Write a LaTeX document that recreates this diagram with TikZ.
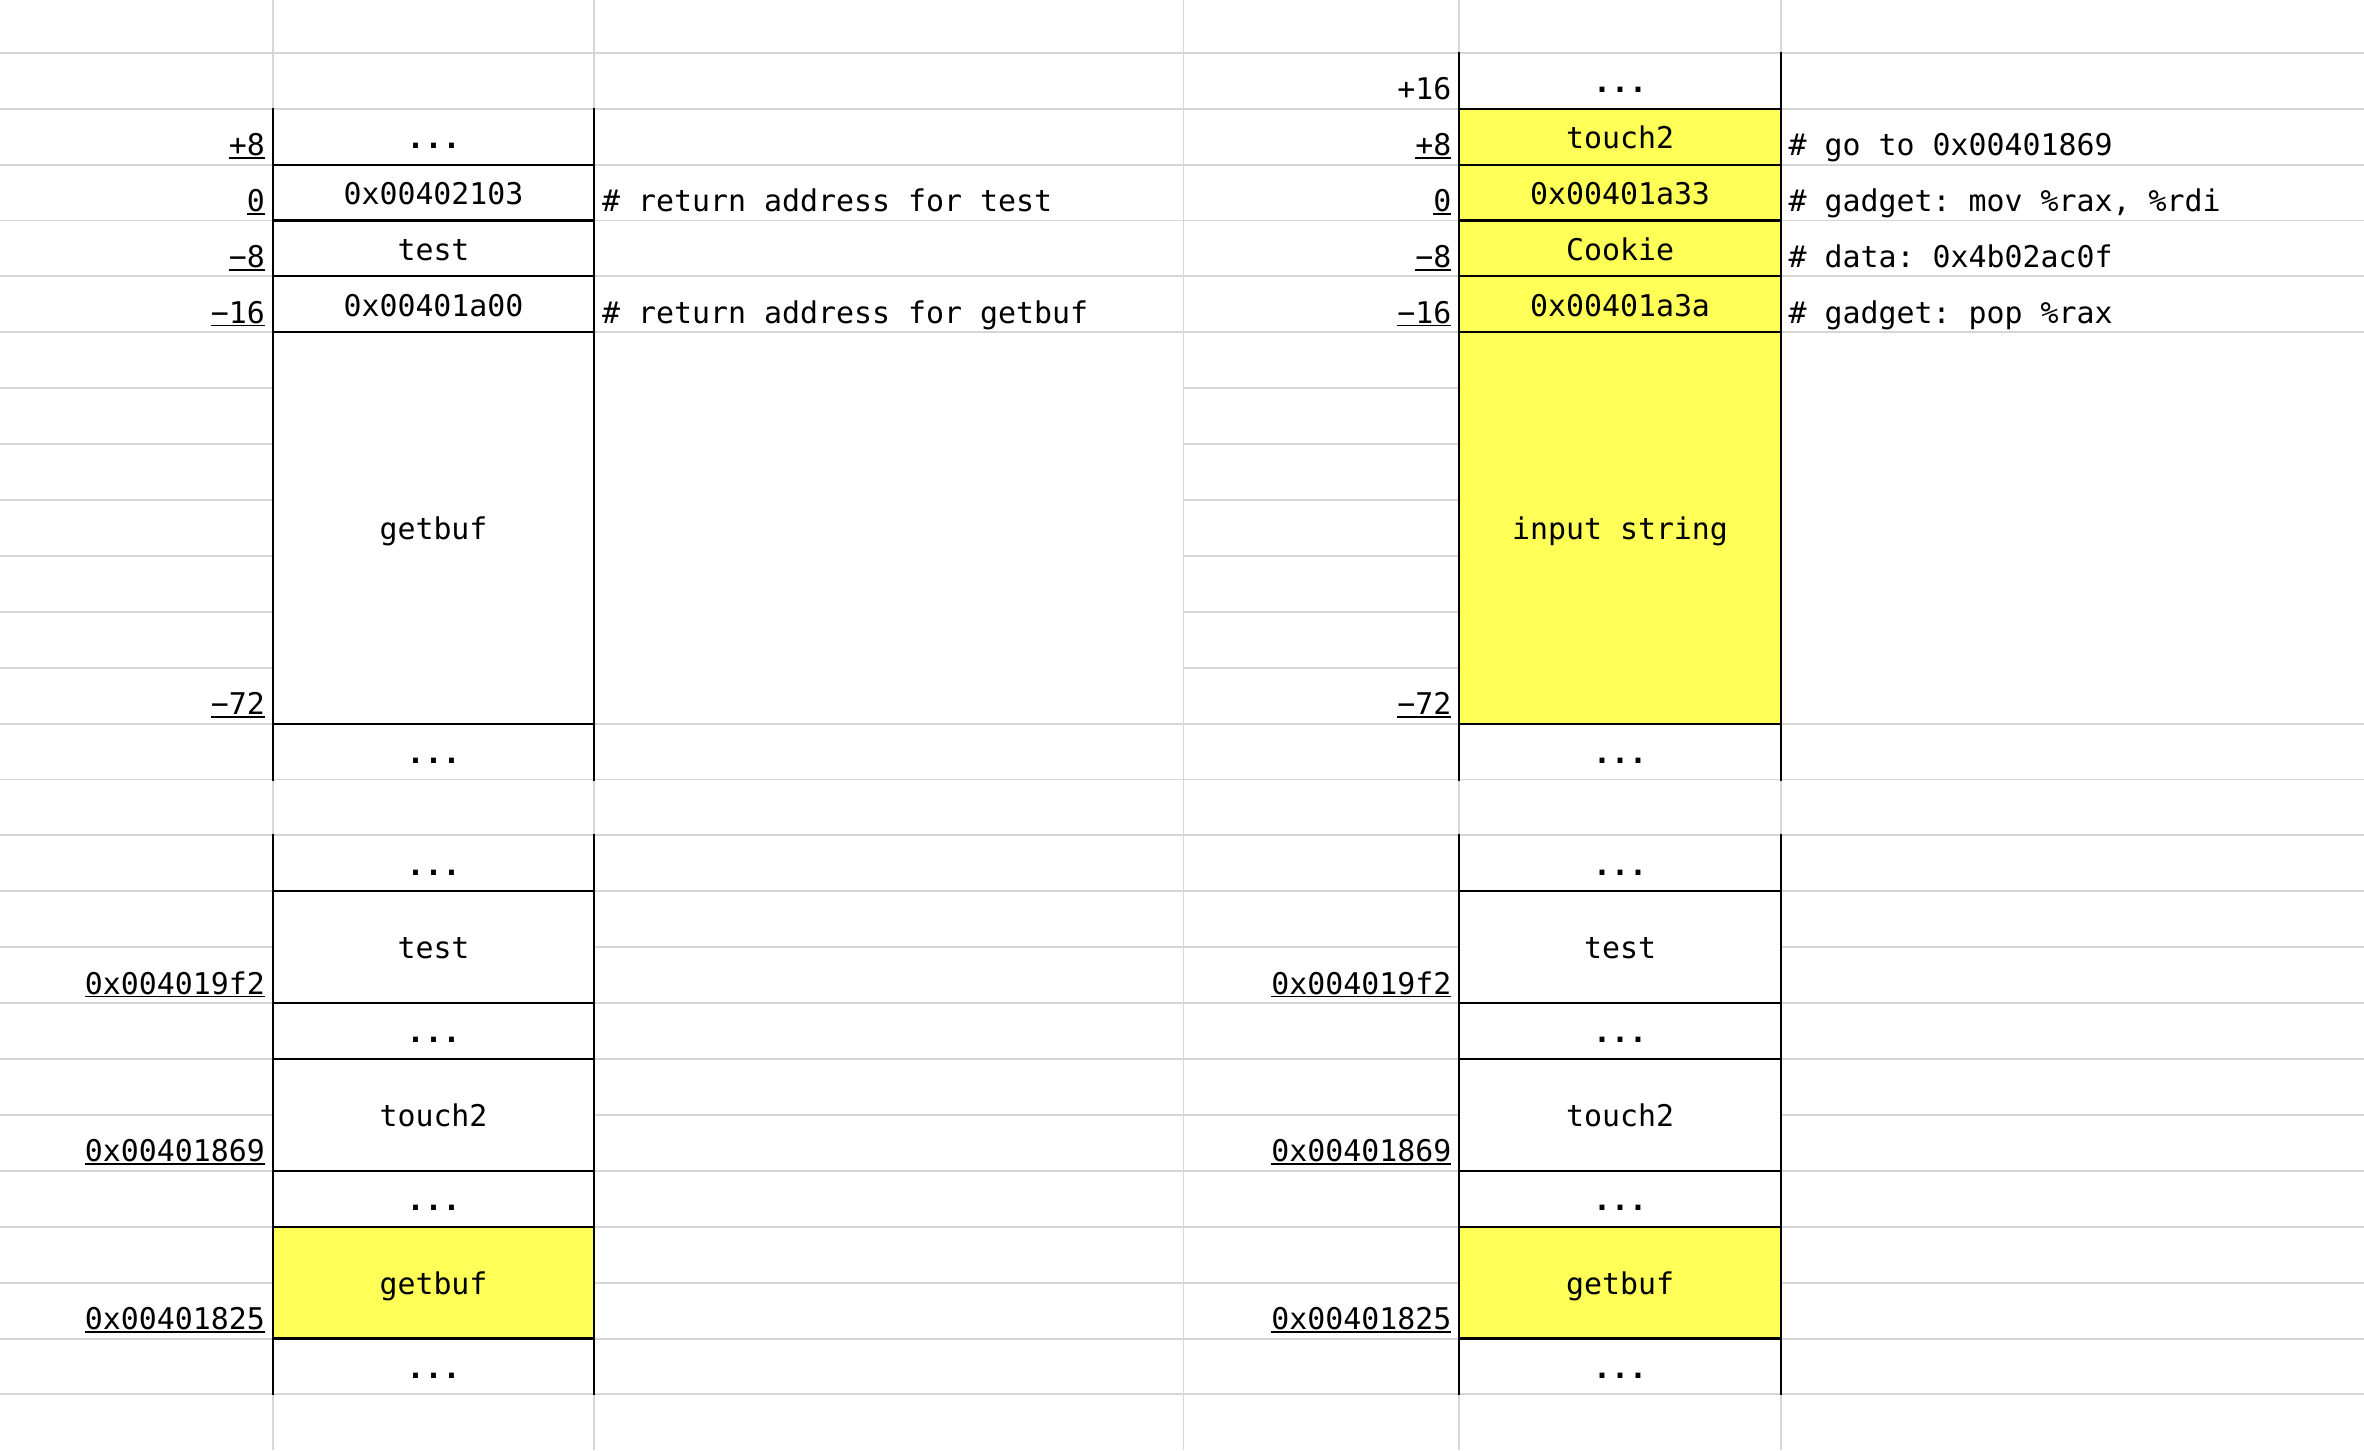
\documentclass[tikz,border=0pt]{standalone}
\usepackage{fontspec}
\newfontfamily\mono{DejaVu Sans Mono}
\definecolor{gridgray}{RGB}{214,214,214}
\definecolor{cellyellow}{RGB}{255,255,87}
\newcommand\ulab[1]{\setbox0\hbox{#1}\rlap{\rule[-0.9pt]{\wd0}{0.5pt}}\box0}
\newcommand\dotsx{{\bfseries ...}}
\frenchspacing
\begin{document}
\begin{tikzpicture}[x=0.01cm,y=-0.01cm,
  declare function={yk(\k)=52.8+55.9*\k; cy(\a,\b)=(yk(\a-1)+yk(\b))/2+11.7; by(\r)=yk(\r)-9;},
  grid/.style={draw=gridgray,line width=0.55pt},
  frame/.style={draw=black,line width=0.6pt,line cap=rect},
  every node/.style={font=\mono\fontsize{8.5pt}{10pt}\selectfont\frenchspacing,inner sep=0pt},
  cell/.style={anchor=base},
  lab/.style={anchor=base east},
  note/.style={anchor=base west}]
\useasboundingbox (0,0) rectangle (2364,1450);
\fill[white] (0,0) rectangle (2364,1450);
% yellow cells
\fill[cellyellow] (1459.4,{yk(1)}) rectangle (1780.6,{yk(12)});
\fill[cellyellow] (273,{yk(21)}) rectangle (594,{yk(23)});
\fill[cellyellow] (1459.4,{yk(21)}) rectangle (1780.6,{yk(23)});
% gray grid
\foreach \k in {0,...,5,12,13,14,15,17,18,20,21,23,24}
  \draw[grid] (0,{yk(\k)}) -- (2364,{yk(\k)});
\foreach \k in {6,...,11} {
  \draw[grid] (0,{yk(\k)}) -- (273,{yk(\k)});
  \draw[grid] (1183.5,{yk(\k)}) -- (1459.4,{yk(\k)});
}
\foreach \k in {16,19,22} {
  \draw[grid] (0,{yk(\k)}) -- (273,{yk(\k)});
  \draw[grid] (594,{yk(\k)}) -- (1459.4,{yk(\k)});
  \draw[grid] (1780.6,{yk(\k)}) -- (2364,{yk(\k)});
}
\foreach \x in {273,594,1183.5,1459.4,1780.6}
  \draw[grid] (\x,0) -- (\x,1450);
% black frames left
\foreach \x in {273,594} {
  \draw[frame] (\x,{yk(1)}) -- (\x,{yk(13)});
  \draw[frame] (\x,{yk(14)}) -- (\x,{yk(24)});
}
\foreach \k in {2,3,4,5,12,15,17,18,20,21,23}
  \draw[frame] (273,{yk(\k)}) -- (594,{yk(\k)});
% black frames right
\foreach \x in {1459.4,1780.6} {
  \draw[frame] (\x,{yk(0)}) -- (\x,{yk(13)});
  \draw[frame] (\x,{yk(14)}) -- (\x,{yk(24)});
}
\foreach \k in {1,2,3,4,5,12,15,17,18,20,21,23}
  \draw[frame] (1459.4,{yk(\k)}) -- (1780.6,{yk(\k)});

% ---------- left stack ----------
\node[cell] (lb2) at (433.5,{cy(2,2)}) {\dotsx};
\node[cell] (lb3) at (433.5,{cy(3,3)}) {0x00402103};
\node[cell] (lb4) at (433.5,{cy(4,4)}) {test};
\node[cell] (lb5) at (433.5,{cy(5,5)}) {0x00401a00};
\node[cell] (lb6) at (433.5,{cy(6,12)}) {getbuf};
\node[cell] (lb13) at (433.5,{cy(13,13)}) {\dotsx};
\node[cell] (lb15) at (433.5,{cy(15,15)}) {\dotsx};
\node[cell] (lb16) at (433.5,{cy(16,17)}) {test};
\node[cell] (lb18) at (433.5,{cy(18,18)}) {\dotsx};
\node[cell] (lb19) at (433.5,{cy(19,20)}) {touch2};
\node[cell] (lb21) at (433.5,{cy(21,21)}) {\dotsx};
\node[cell] (lb22) at (433.5,{cy(22,23)}) {getbuf};
\node[cell] (lb24) at (433.5,{cy(24,24)}) {\dotsx};
% left labels
\node[lab] (la2) at (265.5,{by(2)}) {\ulab{+8}};
\node[lab] (la3) at (265.5,{by(3)}) {\ulab{0}};
\node[lab] (la4) at (265.5,{by(4)}) {\ulab{−8}};
\node[lab] (la5) at (265.5,{by(5)}) {\ulab{−16}};
\node[lab] (la12) at (265.5,{by(12)}) {\ulab{−72}};
\node[lab] (la17) at (265.5,{by(17)}) {\ulab{0x004019f2}};
\node[lab] (la20) at (265.5,{by(20)}) {\ulab{0x00401869}};
\node[lab] (la23) at (265.5,{by(23)}) {\ulab{0x00401825}};
% left notes
\node[note] (lc3) at (601.5,{by(3)}) {\# return address for test};
\node[note] (lc5) at (601.5,{by(5)}) {\# return address for getbuf};

% ---------- right stack ----------
\node[cell] (rb1) at (1620,{cy(1,1)}) {\dotsx};
\node[cell] (rb2) at (1620,{cy(2,2)}) {touch2};
\node[cell] (rb3) at (1620,{cy(3,3)}) {0x00401a33};
\node[cell] (rb4) at (1620,{cy(4,4)}) {Cookie};
\node[cell] (rb5) at (1620,{cy(5,5)}) {0x00401a3a};
\node[cell] (rb6) at (1620,{cy(6,12)}) {input string};
\node[cell] (rb13) at (1620,{cy(13,13)}) {\dotsx};
\node[cell] (rb15) at (1620,{cy(15,15)}) {\dotsx};
\node[cell] (rb16) at (1620,{cy(16,17)}) {test};
\node[cell] (rb18) at (1620,{cy(18,18)}) {\dotsx};
\node[cell] (rb19) at (1620,{cy(19,20)}) {touch2};
\node[cell] (rb21) at (1620,{cy(21,21)}) {\dotsx};
\node[cell] (rb22) at (1620,{cy(22,23)}) {getbuf};
\node[cell] (rb24) at (1620,{cy(24,24)}) {\dotsx};
% right labels
\node[lab] (ra1) at (1452,{by(1)}) {+16};
\node[lab] (ra2) at (1452,{by(2)}) {\ulab{+8}};
\node[lab] (ra3) at (1452,{by(3)}) {\ulab{0}};
\node[lab] (ra4) at (1452,{by(4)}) {\ulab{−8}};
\node[lab] (ra5) at (1452,{by(5)}) {\ulab{−16}};
\node[lab] (ra12) at (1452,{by(12)}) {\ulab{−72}};
\node[lab] (ra17) at (1452,{by(17)}) {\ulab{0x004019f2}};
\node[lab] (ra20) at (1452,{by(20)}) {\ulab{0x00401869}};
\node[lab] (ra23) at (1452,{by(23)}) {\ulab{0x00401825}};
% right notes
\node[note] (rc2) at (1788,{by(2)}) {\# go to 0x00401869};
\node[note] (rc3) at (1788,{by(3)}) {\# gadget: mov \%rax, \%rdi};
\node[note] (rc4) at (1788,{by(4)}) {\# data: 0x4b02ac0f};
\node[note] (rc5) at (1788,{by(5)}) {\# gadget: pop \%rax};
\end{tikzpicture}
\end{document}
